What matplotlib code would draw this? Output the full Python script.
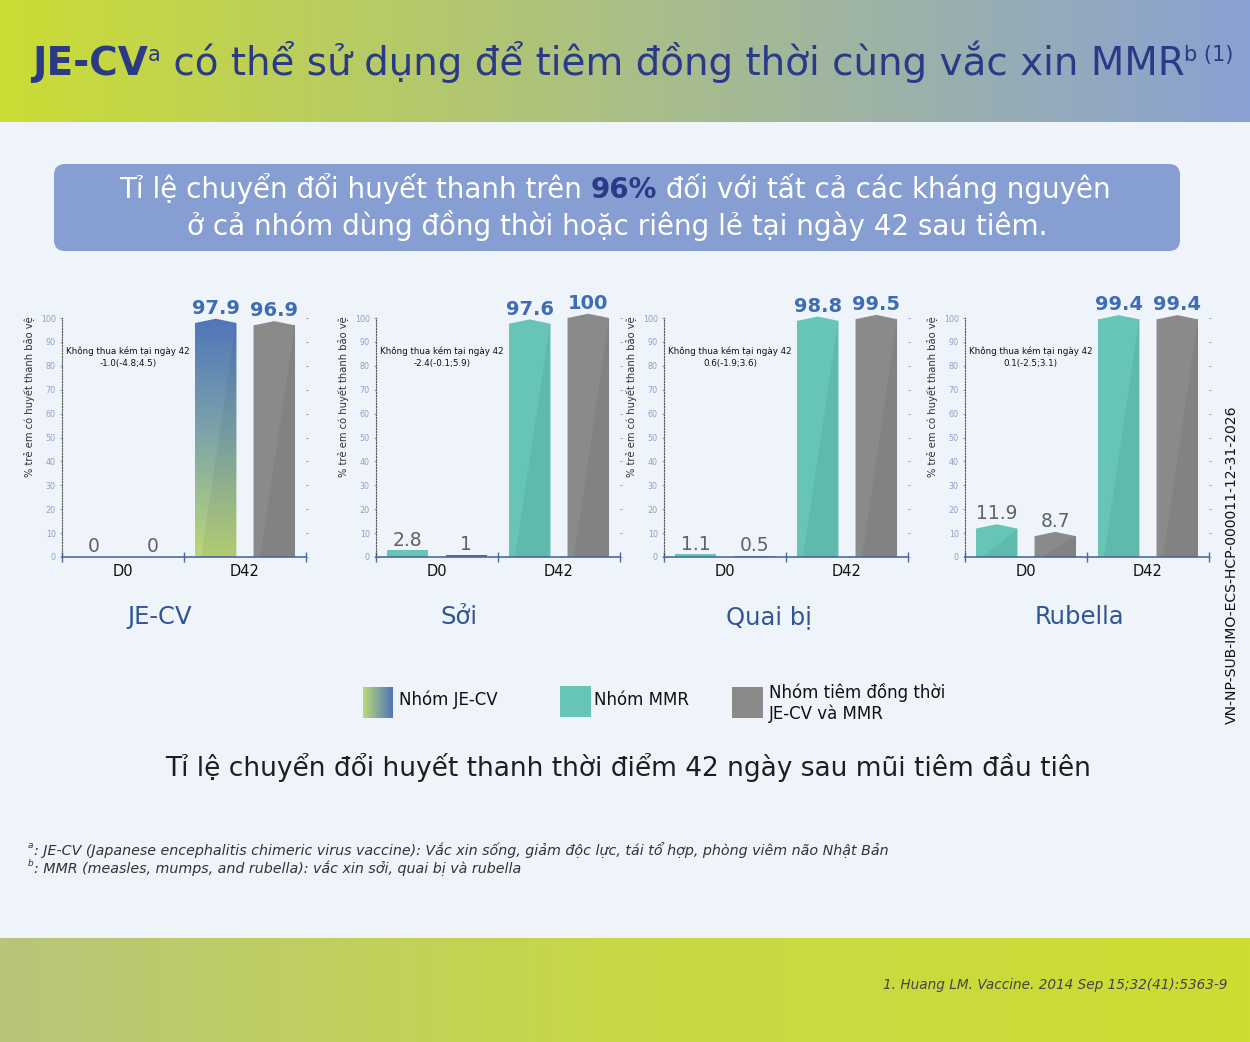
import numpy as np
import matplotlib.pyplot as plt
from matplotlib.patches import FancyBboxPatch, Rectangle, Polygon
from matplotlib.colors import LinearSegmentedColormap

plt.rcParams['font.family'] = ['DejaVu Sans']

W, H = 1250, 1042

# Dữ liệu
khang_nguyen = ['JE-CV', 'Sởi', 'Quai bị', 'Rubella']
moc = ['D0', 'D42']
nhom_rieng = [[0, 97.9], [2.8, 97.6], [1.1, 98.8], [11.9, 99.4]]      # nhóm JE-CV / nhóm MMR
nhom_dong_thoi = [[0, 96.9], [1, 100], [0.5, 99.5], [8.7, 99.4]]     # nhóm tiêm đồng thời
khong_thua_kem = ['-1.0(-4.8;4.5)', '-2.4(-0.1;5.9)', '0.6(-1.9;3.6)', '0.1(-2.5;3.1)']
yticks = list(range(0, 101, 10))
nhan_chu_giai = ['Nhóm JE-CV', 'Nhóm MMR', 'Nhóm tiêm đồng thời\nJE-CV và MMR']

NAVY = '#2B3A87'
BLUE_NUM = '#3E6DB5'
TEAL = '#66C5B5'
GRAY = '#8A8A8A'
GREEN_LOW = '#BCD877'
BLUE_TOP = '#4F75BA'

fig = plt.figure(figsize=(12.5, 10.42), dpi=100)
fig.patch.set_facecolor('#EFF3FA')
bg = fig.add_axes([0, 0, 1, 1])
bg.axis('off')


def gradient(ax, x0, x1, y0, y1, colors, horizontal=True, z=0, clip=None):
    cmap = LinearSegmentedColormap.from_list('g', colors)
    g = np.linspace(0, 1, 256)
    arr = g[None, :] if horizontal else g[:, None]
    im = ax.imshow(arr, extent=[x0, x1, y0, y1], origin='lower', cmap=cmap,
                   aspect='auto', zorder=z, interpolation='bilinear')
    if clip is not None:
        im.set_clip_path(clip)
    return im


# dải đầu và dải cuối
gradient(bg, 0, W, 0, 122, ['#CBDC35', '#AABF86', '#8AA1D3'])
gradient(bg, 0, W, 938, H, ['#B8C57A', '#C8D845', '#CEDC33'])
bg.add_patch(FancyBboxPatch((54, 164), 1126, 87, boxstyle='round,pad=0,rounding_size=11',
                            fc='#869ED1', ec='none', zorder=1))
bg.set_xlim(0, W)
bg.set_ylim(H, 0)


def rich(ax, x, y, parts, ha='center'):
    first = prev = last = None
    for s, kw, sup in parts:
        if first is None:
            t = ax.text(x, y, s, ha='left', va='baseline', zorder=5, **kw)
            first = t
        else:
            t = ax.annotate(s, xy=(1, 0.48 if sup else 0), xycoords=(prev, first),
                            ha='left', va='bottom', zorder=5, **kw)
        prev = last = t
    fig.canvas.draw()
    b0 = first.get_window_extent()
    b1 = last.get_window_extent()
    width = b1.x1 - b0.x0
    if ha == 'center':
        first.set_x(x - width / 2)
    elif ha == 'right':
        first.set_x(x - width)


# tiêu đề
rich(bg, 32, 75, [
    ('JE-CV', dict(fontsize=28, fontweight='bold', color=NAVY), False),
    ('a', dict(fontsize=15, color=NAVY), True),
    (' có thể sử dụng để tiêm đồng thời cùng vắc xin MMR', dict(fontsize=28, color=NAVY), False),
    ('b (1)', dict(fontsize=15, color=NAVY), True),
], ha='left')

# hộp thông điệp
rich(bg, 615, 198, [
    ('Tỉ lệ chuyển đổi huyết thanh trên ', dict(fontsize=20, color='white'), False),
    ('96%', dict(fontsize=20, color=NAVY, fontweight='bold'), False),
    (' đối với tất cả các kháng nguyên', dict(fontsize=20, color='white'), False),
])
bg.text(617, 235, 'ở cả nhóm dùng đồng thời hoặc riêng lẻ tại ngày 42 sau tiêm.',
        fontsize=20, color='white', ha='center', va='baseline', zorder=5)

# các biểu đồ cột
lefts = [62, 376, 664, 965]
title_x = [0.40, 0.34, 0.43, 0.47]
ax_w = 244 / W
ax_h = 1.10 * 239 / H
bottom = 1 - 557 / H
bw = 0.68
roof = 1.8

for i, ten in enumerate(khang_nguyen):
    ax = fig.add_axes([lefts[i] / W, bottom, ax_w, ax_h])
    ax.set_facecolor('none')
    groups = np.arange(len(moc)) * 2 + 1
    for vals, off, is_first in [(nhom_rieng[i], -0.48, True), (nhom_dong_thoi[i], 0.48, False)]:
        xs = groups + off
        color = TEAL if is_first else GRAY
        bars = ax.bar(xs, vals, width=bw, color=color, zorder=2, linewidth=0)
        for b, x, v in zip(bars, xs, vals):
            if v <= 0:
                continue
            x0, x1 = x - bw / 2, x + bw / 2
            top = v
            if v >= 5:
                shape = Polygon([(x0, 0), (x0, v), (x, v + roof), (x1, v), (x1, 0)],
                                closed=True, fc=color, ec='none', zorder=2)
                ax.add_patch(shape)
                top = v + roof
            else:
                shape = b
                if not is_first:
                    b.set_facecolor('#5E6675')
            if is_first and i == 0:
                shape.set_facecolor('none')
                b.set_facecolor('none')
                gradient(ax, x0, x1, 0, top, [GREEN_LOW, '#7FA6A8', BLUE_TOP],
                         horizontal=False, z=2, clip=shape)
            if v >= 5:
                shade = Polygon([(x0 + 0.15 * bw, 0), (x1, 0), (x1, v)], closed=True,
                                fc='black', alpha=0.05, ec='none', zorder=3)
                shade.set_clip_path(shape)
                ax.add_patch(shade)
    # nhãn giá trị
    for g, x in enumerate(groups):
        for v, off in [(nhom_rieng[i][g], -0.48), (nhom_dong_thoi[i][g], 0.48)]:
            extra = roof if v >= 5 else 0
            if g == 0:
                ax.text(x + off, v + extra + 2, f'{v:g}', ha='center', va='baseline',
                        fontsize=13.5, color='#5C6270', zorder=4)
            else:
                ax.text(x + off, v + extra + 2, f'{v:g}', ha='center', va='baseline',
                        fontsize=14, fontweight='bold', color=BLUE_NUM, zorder=4,
                        clip_on=False)
    ax.text(1.08, 86, 'Không thua kém tại ngày 42', fontsize=6.3, ha='center', va='center',
            color='#111')
    ax.text(1.08, 81, khong_thua_kem[i], fontsize=6.3, ha='center', va='center', color='#111')

    ax.set_xlim(0, 4)
    ax.set_ylim(0, 110)
    ax.set_yticks(yticks)
    ax.set_xticks([0, 2, 4])
    ax.set_xticklabels([])
    ax.set_xticks(groups, labels=moc, minor=True)
    ax.tick_params(axis='x', which='major', direction='inout', length=7, width=1,
                   color='#4A69A8')
    ax.tick_params(axis='x', which='minor', length=0, labelsize=10.5, pad=5,
                   labelcolor='#111')
    ax.tick_params(axis='y', which='major', left=True, right=True, length=1.5, width=0.8,
                   color='#8FA0C8', labelsize=5.8, labelcolor='#8FA0C8', pad=3)
    for s in ['top', 'right']:
        ax.spines[s].set_visible(False)
    ax.spines['left'].set_linestyle((0, (1, 1.5)))
    ax.spines['left'].set_color('#555')
    ax.spines['left'].set_linewidth(0.8)
    ax.spines['left'].set_bounds(0, 100)
    ax.spines['bottom'].set_color('#4A69A8')
    ax.spines['bottom'].set_linewidth(1.2)
    ax.set_ylabel('% trẻ em có huyết thanh bảo vệ', fontsize=7.2, color='#333')
    ax.yaxis.set_label_coords(-0.11, 0.61)
    ax.text(title_x[i], -0.23, ten, transform=ax.transAxes, ha='center', va='center',
            fontsize=17.5, color='#2F5597')

# chú giải
gradient(bg, 363, 393, 718, 687, [GREEN_LOW, BLUE_TOP], horizontal=True, z=2)
bg.add_patch(Rectangle((560, 686), 31, 31, fc=TEAL, ec='none', zorder=2))
bg.add_patch(Rectangle((732, 687), 31, 31, fc=GRAY, ec='none', zorder=2))
bg.text(399, 700, nhan_chu_giai[0], fontsize=12, va='center', ha='left', color='#111')
bg.text(594, 700, nhan_chu_giai[1], fontsize=12, va='center', ha='left', color='#111')
bg.text(769, 703, nhan_chu_giai[2], fontsize=12, va='center', ha='left', color='#111',
        linespacing=1.2)

bg.text(628, 768, 'Tỉ lệ chuyển đổi huyết thanh thời điểm 42 ngày sau mũi tiêm đầu tiên',
        fontsize=19, ha='center', va='center', color='#1E1E1E')

# chú thích cuối trang
foot = dict(color='#333', style='italic')
bg.text(28, 848, 'a', fontsize=6.5, va='baseline', **foot)
bg.text(34, 855, ': JE-CV (Japanese encephalitis chimeric virus vaccine): Vắc xin sống, '
        'giảm độc lực, tái tổ hợp, phòng viêm não Nhật Bản', fontsize=10.3, va='baseline', **foot)
bg.text(28, 866, 'b', fontsize=6.5, va='baseline', **foot)
bg.text(34, 873, ': MMR (measles, mumps, and rubella): vắc xin sởi, quai bị và rubella',
        fontsize=10.3, va='baseline', **foot)

bg.text(1227, 989, '1. Huang LM. Vaccine. 2014 Sep 15;32(41):5363-9', fontsize=9.8,
        style='italic', ha='right', va='baseline', color='#444')
bg.text(1232, 565, 'VN-NP-SUB-IMO-ECS-HCP-000011-12-31-2026', fontsize=10.1, rotation=90,
        ha='center', va='center', color='#111')

bg.set_xlim(0, W)
bg.set_ylim(H, 0)
fig.savefig('out.png', dpi=100, facecolor=fig.get_facecolor())
